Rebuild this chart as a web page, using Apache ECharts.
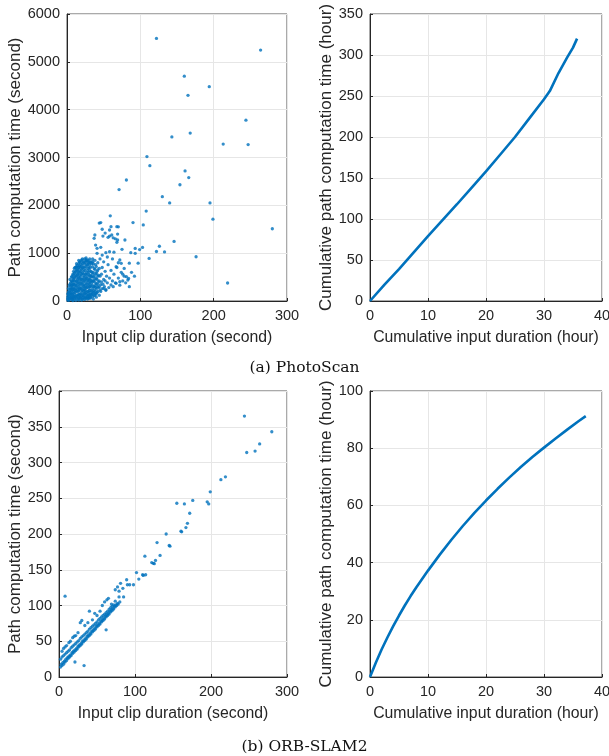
<!DOCTYPE html>
<html>
<head>
<meta charset="utf-8">
<script src="https://cdn.jsdelivr.net/npm/echarts@6/dist/echarts.min.js"></script>
<style>
  html, body { margin: 0; padding: 0; background: #fff; }
  #main { width: 609px; height: 756px; }
</style>
</head>
<body>
<div id="main"></div>
<script>
// (a) PhotoScan - per-clip scatter, sparse outliers (second, second)
var psSparse = [
  [122,5490],[264,5245],[160,4700],[194,4480],[165,4300],[244,3780],[168,3510],[143,3430],
  [213,3280],[247,3270],[109,3020],[113,2830],[161,2720],[166,2580],[81,2530],[154,2430],
  [71,2330],[130,2180],[140,2050],[195,2050],[108,1880],[199,1710],[59,1780],[90,1640],
  [104,1590],[280,1510],[44,1630],[46,1640],[146,1245],[126,1145],[133,1025],[122,1035],
  [112,890],[176,925],[219,376],[103,1120],[99,1075],[93,1100],[97,790],[85,790],
  [60,1553],[68,1553],[70,1550],[38,1380],[37,1310],[49,1358],[56,1331],[58,1358],
  [58,1484],[61,1380],[69,1400],[69,1275],[68,1227],[79,1275],[39,1170],[41,1101],
  [46,1122],[41,997],[48,961],[53,1010],[58,1030],[87,1010],[93,997],[26,857],[30,836],
  [35,821],[72,857],[74,788],[67,717],[81,508],[83,439],[72,403],[60,334],[67,370],[53,230],
  [48,1500],[52,1420],[63,1320],[66,1300],[75,1080],[64,1020],[55,920],[62,880],[70,800],
  [78,680],[88,600],[92,520],[76,560],[85,300]
];
// (a) PhotoScan - dense cluster near the origin
var psCluster = [
  [1,20],[2,60],[2,130],[3,20],[3,200],[1,90],[2,260],
  [4,40],[4,110],[5,180],[5,300],[5,380],[6,60],[6,250],[4,450],[6,500],
  [7,30],[7,140],[7,330],[8,90],[8,420],[8,560],[9,200],[9,280],[9,620],[7,220],
  [10,50],[10,150],[10,350],[10,480],[11,250],[11,600],[11,700],[12,100],[12,400],[12,530],[10,680],
  [13,60],[13,200],[13,320],[13,650],[14,450],[14,560],[14,750],[15,130],[15,270],[15,380],[15,620],[13,780],
  [16,80],[16,210],[16,500],[16,700],[17,330],[17,440],[17,820],[18,150],[18,260],[18,600],[18,720],[16,850],
  [19,60],[19,380],[19,520],[19,840],[20,200],[20,290],[20,660],[20,760],[21,120],[21,450],[21,580],[21,880],
  [22,70],[22,250],[22,350],[22,700],[23,500],[23,620],[23,820],[24,160],[24,300],[24,420],[24,780],[24,880],
  [25,90],[25,220],[25,560],[25,680],[26,360],[26,470],[26,840],[27,140],[27,280],[27,600],[27,750],[26,900],
  [28,100],[28,420],[28,520],[28,860],[29,200],[29,330],[29,680],[30,120],[30,260],[30,460],[30,600],[30,800],
  [31,380],[31,540],[31,880],[32,150],[32,300],[32,700],[33,220],[33,430],[33,620],[33,820],
  [34,130],[34,350],[34,500],[35,260],[35,720],[35,880],[36,180],[36,420],[36,600],[36,780],
  [37,300],[37,520],[38,200],[38,660],[38,850],[39,380],[39,560],[40,250],[40,720],[40,470],
  [41,180],[41,620],[42,350],[42,800],[43,280],[43,540],[44,420],[44,680],[45,230],[45,880],
  [46,340],[47,560],[48,260],[48,700],[50,450],[50,820],[51,300],[52,620],[53,230],[54,520],
  [55,380],[56,760],[57,280],[58,480],[60,640],[62,420],[63,300],[64,560],[66,380],[68,700],
  [70,480],[72,330],[74,600],[76,420],[78,520],[80,380],[84,470],
  [36,40],[40,80],[44,120],[32,60],[28,40],[24,30],[20,20],[16,20],[12,15],[8,10]
];
// (a) PhotoScan - more of the solid core of the cluster
var psCore = [
  [1,50],[1,150],[2,20],[2,190],[3,90],[3,320],[3,150],[4,250],[4,180],[4,350],[5,60],[5,120],
  [5,240],[6,150],[6,330],[6,420],[7,80],[7,280],[7,400],[7,520],[8,40],[8,160],[8,240],[8,340],
  [8,480],[9,100],[9,360],[9,450],[9,540],[10,100],[10,250],[10,420],[10,580],[11,60],[11,180],
  [11,330],[11,500],[12,220],[12,300],[12,620],[12,700],[13,120],[13,420],[13,520],[13,720],
  [14,90],[14,250],[14,360],[14,650],[15,40],[15,200],[15,480],[15,560],[15,700],[16,140],
  [16,300],[16,400],[16,600],[16,780],[17,50],[17,120],[17,240],[17,540],[17,660],[17,740],
  [18,80],[18,360],[18,480],[18,800],[19,150],[19,260],[19,450],[19,620],[19,720],[20,100],
  [20,400],[20,560],[20,860],[21,40],[21,220],[21,340],[21,680],[21,780],[22,150],[22,460],
  [22,560],[22,820],[23,100],[23,200],[23,300],[23,400],[23,720],[24,60],[24,240],[24,520],
  [24,640],[25,150],[25,330],[25,450],[25,800],[26,60],[26,180],[26,270],[26,560],[26,720],
  [27,80],[27,380],[27,480],[27,840],[28,200],[28,300],[28,640],[28,760],[29,60],[29,130],
  [29,430],[29,560],[29,800],[30,60],[30,180],[30,360],[30,700],[31,100],[31,220],[31,300],
  [31,460],[31,640],[31,760],[32,80],[32,400],[32,520],[32,800],[33,140],[33,320],[33,520],
  [34,200],[34,420],[34,600],[34,780],[35,90],[35,160],[35,400],[35,560],[36,300],[36,500],
  [37,120],[37,220],[37,420],[37,680],[38,120],[38,320],[38,460],[39,160],[39,280],[39,760],
  [40,150],[40,360],[40,580],[41,300],[41,450],[42,200],[42,520],[42,650],[43,400],[44,300],
  [45,520],[46,200],[47,400],[49,350],[50,260],[52,420]
];
// (a) PhotoScan - cumulative (hour, hour)
var psCumX = [0, 2.5, 5, 7.5, 10, 12.5, 15, 17.5, 20, 22.5, 25, 27.5, 30, 31, 32.5, 34, 35, 35.7];
var psCumY = [0, 20, 39, 59, 79, 98.5, 118, 138, 158, 179, 200, 223, 246, 256, 278, 297, 309, 320];

// (b) ORB-SLAM2 - per-clip scatter, three bands plus outliers (second, second)
var orbBandLow = [
  [2,14],[4,16],[6,18],[8,21],[10,23],[12,26],[14,28],[16,30],[18,33],[20,35],[22,37],[24,39],
  [26,42],[28,44],[30,46],[32,49],[34,51],[36,53],[38,56],[40,58],[42,60],[44,63],[46,65],[48,67],
  [50,70],[52,72],[54,74],[56,77],[58,79],[60,81],[62,84],[64,86],[66,88],[68,91],[70,93],[72,95],
  [74,98],[76,100],[78,102],[80,105],
  [3,18],[5,20],[7,22],[9,25],[11,27],[13,29],[15,31],[17,34],[19,36],[21,38],[23,40],[25,43],
  [27,45],[29,47],[31,50],[33,52],[35,54],[37,57],[39,59],[41,61],[43,64],[45,66],[47,68],[49,71],
  [51,73],[53,75],[55,78],[57,80],[59,82],[61,85],[63,87],[65,89],[67,92],[69,94],[71,96],[73,99],[75,101],[77,103]
];
var orbBandMid = [
  [2,25],[4,28],[6,30],[8,32],[10,34],[12,36],[14,38],[16,41],[18,43],[20,45],[22,47],[24,49],
  [26,51],[28,54],[30,56],[32,58],[34,60],[36,62],[38,64],[40,67],[42,69],[44,71],[46,73],[48,75],
  [50,77],[52,80],[54,82],[56,84],[58,86],[60,88],[62,90],[64,92],[66,95],[68,97],[70,99],[72,101]
];
var orbBandHigh = [
  [4,36],[6,40],[8,42],[10,44],[13,48],[15,50],[18,55],[20,57],[22,58],[25,62],[28,76],[30,79],
  [34,72],[38,76],[40,92],[44,80],[47,89],[50,86],[54,92],[57,100],[60,105],[63,108],[65,110],
  [69,102],[74,106],[79,112]
];
var orbSparse = [
  [244,365],[280,343],[264,326],[247,314],[258,316],[213,276],[219,280],[199,259],[195,245],
  [197,242],[176,247],[155,243],[165,242],[172,229],[169,215],[167,209],[160.5,204],[161.4,203],
  [141,200],[129,188],[145,184],[146,183],[133,170],[113,169],[122,160],[124,159],[125.4,158.5],
  [127,163],[102,146],[105,137],[98,129],[93,129],[110,143],[111,142],[114,143],[89,136],[90,129],
  [81,131],[77,126],[79,120],[74,122],[84,124],[85,112],
  [8,113],[33,16],[21,21],[62,66]
];
// (b) ORB-SLAM2 - cumulative (hour, hour)
var orbCumX = [0, 1, 2, 3, 4, 5, 6, 7, 8, 10, 12, 14, 16, 18, 20, 22, 24, 26, 28, 30, 32, 34, 36, 37.2];
var orbCumY = [0, 5, 9.6, 13.8, 17.8, 21.5, 25, 28.3, 31.4, 37.2, 42.7, 47.9, 52.8, 57.4, 61.7, 65.8, 69.7, 73.4, 76.9, 80.2, 83.4, 86.5, 89.5, 91.2];

var BLUE = '#0072BD';
var SANS = '"Liberation Sans", Arial, sans-serif';
var INK = '#262626';

function pairs(xs, ys) {
  var out = [];
  for (var i = 0; i < xs.length; i++) out.push([xs[i], ys[i]]);
  return out;
}
function plain(v) { return String(v); }

function xAx(g, max, interval, name) {
  return {
    gridIndex: g, type: 'value', min: 0, max: max, interval: interval,
    name: name, nameLocation: 'middle', nameGap: 29,
    nameTextStyle: { color: INK, fontSize: 15.8, fontFamily: SANS },
    axisLine: { show: true, onZero: false, lineStyle: { color: INK, width: 1 } },
    axisTick: { show: true, inside: true, length: 3, lineStyle: { color: INK } },
    axisLabel: { color: INK, fontSize: 14.5, fontFamily: SANS, margin: 7, formatter: plain },
    splitLine: { show: true, lineStyle: { color: '#e6e6e6', width: 1 } }
  };
}
function yAx(g, max, interval, name, gap) {
  return {
    gridIndex: g, type: 'value', min: 0, max: max, interval: interval,
    name: name, nameLocation: 'middle', nameGap: gap,
    nameTextStyle: { color: INK, fontSize: 17, fontFamily: SANS },
    axisLine: { show: true, onZero: false, lineStyle: { color: INK, width: 1 } },
    axisTick: { show: true, inside: true, length: 3, lineStyle: { color: INK } },
    axisLabel: { color: INK, fontSize: 14.5, fontFamily: SANS, margin: 7, formatter: plain },
    splitLine: { show: true, lineStyle: { color: '#e6e6e6', width: 1 } }
  };
}
function dots(g, data) {
  return {
    type: 'scatter', xAxisIndex: g, yAxisIndex: g, data: data,
    symbol: 'circle', symbolSize: 3.3, itemStyle: { color: BLUE }, silent: true
  };
}
function curve(g, xs, ys) {
  return {
    type: 'line', xAxisIndex: g, yAxisIndex: g, data: pairs(xs, ys),
    showSymbol: false, smooth: false, lineStyle: { color: BLUE, width: 2.6 }
  };
}

var chart = echarts.init(document.getElementById('main'), null, { renderer: 'canvas' });
var box = { show: true, borderColor: '#555', borderWidth: 1, backgroundColor: 'transparent', outerBoundsMode: 'none' };
var capStyle = { fontFamily: '"DejaVu Serif", serif', fontWeight: 'normal', fontSize: 15.5, color: '#111' };

chart.setOption({
  animation: false,
  backgroundColor: '#fff',
  title: [
    { text: '(a) PhotoScan', left: 'center', top: 355, textStyle: capStyle },
    { text: '(b) ORB-SLAM2', left: 'center', top: 734, textStyle: capStyle }
  ],
  grid: [
    Object.assign({ left: 67, top: 14, width: 220, height: 287 }, box),
    Object.assign({ left: 370, top: 14, width: 232, height: 287 }, box),
    Object.assign({ left: 59, top: 391, width: 228, height: 286 }, box),
    Object.assign({ left: 370, top: 391, width: 232, height: 286 }, box)
  ],
  xAxis: [
    xAx(0, 300, 100, 'Input clip duration (second)'),
    xAx(1, 40, 10, 'Cumulative input duration (hour)'),
    xAx(2, 300, 100, 'Input clip duration (second)'),
    xAx(3, 40, 10, 'Cumulative input duration (hour)')
  ],
  yAxis: [
    yAx(0, 6000, 1000, 'Path computation time (second)', 41),
    yAx(1, 350, 50, 'Cumulative path computation time (hour)', 34),
    yAx(2, 400, 50, 'Path computation time (second)', 34),
    yAx(3, 100, 20, 'Cumulative path computation time (hour)', 34)
  ],
  series: [
    dots(0, psCore),
    dots(0, psCluster),
    dots(0, psSparse),
    curve(1, psCumX, psCumY),
    dots(2, orbBandLow),
    dots(2, orbBandMid),
    dots(2, orbBandHigh),
    dots(2, orbSparse),
    curve(3, orbCumX, orbCumY)
  ]
});
</script>
</body>
</html>
